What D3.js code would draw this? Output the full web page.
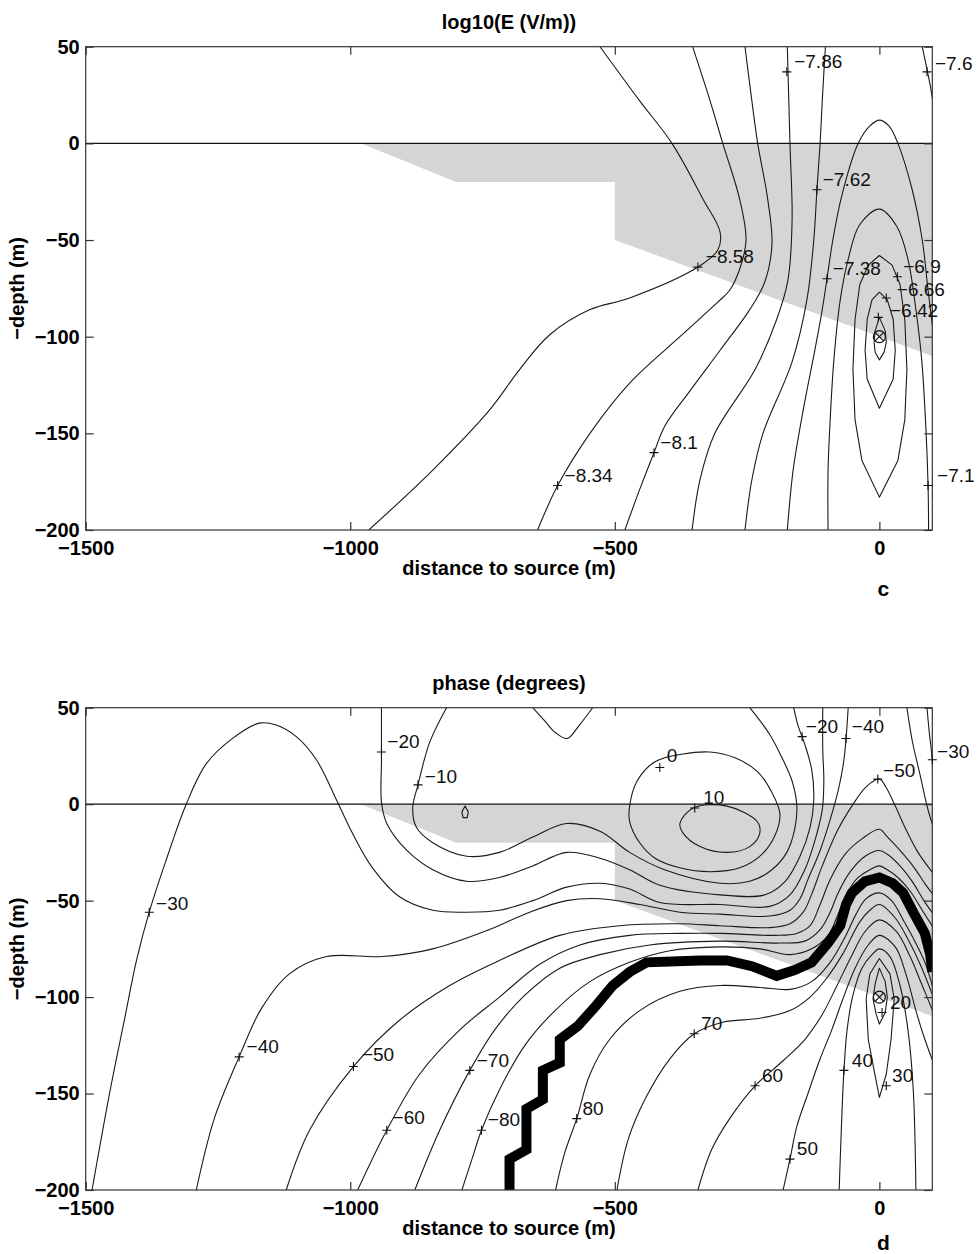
<!DOCTYPE html>
<html>
<head>
<meta charset="utf-8">
<script src="https://cdn.jsdelivr.net/npm/d3@7"></script>
<style>
	body { margin: 0; background: #fff; }
	svg { display: block; font-family: "Liberation Sans", Arial, Helvetica, sans-serif; }
</style>
</head>
<body>
<div id="visHolder"></div>
<script>
const X_DOMAIN = [-1500, 100];
const Y_DOMAIN = [-200, 50];
const X_TICKS = [-1500, -1000, -500, 0];
const Y_TICKS = [50, 0, -50, -100, -150, -200];

// shaded block below the surface, the same in both panels
const shadedArea = [[-980, 0], [-800, -20], [-500, -20], [-500, -50], [100, -110], [100, 0]];
const sourcePoint = [0, -100];

// panel c: log10(E)
const fieldLines = [
	{ level: -8.58, shape: "open", pts: [[-528, 50], [-453, 22], [-392, 0], [-333, -29], [-301, -46], [-305, -55], [-343, -64], [-472, -80], [-547, -86], [-623, -99], [-680, -117], [-737, -138], [-844, -169], [-965, -200]] },
	{ level: -8.34, shape: "open", pts: [[-353, 50], [-320, 22], [-296, 0], [-264, -29], [-252, -50], [-264, -65], [-283, -76], [-305, -82], [-377, -100], [-472, -124], [-547, -150], [-608, -177], [-646, -200]] },
	{ level: -8.1, shape: "open", pts: [[-254, 50], [-241, 22], [-230, 0], [-211, -29], [-203, -52], [-217, -72], [-245, -86], [-301, -107], [-358, -128], [-405, -146], [-426, -160], [-453, -179], [-481, -200]] },
	{ level: -7.86, shape: "open", pts: [[-174, 50], [-169, 0], [-165, -40], [-173, -71], [-194, -91], [-235, -117], [-311, -150], [-339, -174], [-354, -200]] },
	{ level: -7.62, shape: "open", pts: [[-102, 50], [-108, 22], [-112, 0], [-118, -24], [-124, -50], [-137, -81], [-165, -113], [-220, -150], [-241, -174], [-254, -200]] },
	{ level: -7.62, shape: "open", pts: [[81, 50], [88, 41], [96, 30], [102, 20]] },
	{ level: -7.38, shape: "open", pts: [[-174, -200], [-163, -169], [-144, -138], [-122, -107], [-108, -86], [-99, -70], [-88, -50], [-71, -27], [-40, 0], [-18, 9], [0, 12], [18, 9], [35, 0], [62, -24], [81, -50], [92, -76], [102, -98]] },
	{ level: -7.14, shape: "open", pts: [[-97, -200], [-97, -169], [-93, -143], [-86, -112], [-74, -81], [-59, -60], [-37, -42], [0, -34], [33, -43], [54, -60], [69, -86], [80, -112], [88, -148], [92, -177], [93, -200]] },
	{ level: -6.9, shape: "lemon", pts: [[0, -58], [24, -63], [39, -73], [48, -91], [52, -117], [48, -143], [35, -164], [0, -183], [-33, -164], [-46, -143], [-50, -117], [-46, -91], [-37, -73], [-21, -63]] },
	{ level: -6.66, shape: "lemon", pts: [[0, -77], [15, -81], [26, -91], [30, -107], [26, -122], [0, -137], [-23, -122], [-27, -107], [-23, -91], [-14, -81]] },
	{ level: -6.42, shape: "lemon", pts: [[0, -90], [11, -97], [13, -103], [9, -108], [0, -112], [-8, -108], [-10, -103], [-8, -97]] },
];

const fieldLabels = [
	{ text: "\u22127.86", at: [-175, 37], textAt: [-161, 39] },
	{ text: "\u22127.6", at: [90, 37], textAt: [105, 38] },
	{ text: "\u22127.62", at: [-118, -24], textAt: [-107, -22] },
	{ text: "\u22128.58", at: [-343, -64], textAt: [-328, -62] },
	{ text: "\u22127.38", at: [-99, -70], textAt: [-88, -68] },
	{ text: "\u22126.9", at: [34, -69], textAt: [45, -67] },
	{ text: "\u22126.66", at: [13, -80], textAt: [33, -79] },
	{ text: "\u22126.42", at: [-2, -90], textAt: [20, -90] },
	{ text: "\u22128.1", at: [-426, -160], textAt: [-414, -158] },
	{ text: "\u22128.34", at: [-608, -177], textAt: [-595, -175] },
	{ text: "\u22127.1", at: [92, -177], textAt: [109, -175] },
];

// panel d: phase (degrees)
const phaseLines = [
	{ level: -30, shape: "open", pts: [[-1488, -200], [-1455, -150], [-1427, -112], [-1404, -81], [-1380, -56], [-1348, -29], [-1310, 0], [-1272, 21], [-1223, 34], [-1172, 42], [-1140, 41], [-1102, 35], [-1064, 23], [-1024, 1], [-996, -15], [-958, -33], [-907, -48], [-844, -55], [-780, -56], [-718, -55], [-655, -50], [-591, -43], [-528, -41], [-472, -44], [-415, -51], [-301, -52], [-207, -53], [-169, -47], [-141, -34], [-122, -19], [-108, -3], [-105, 12], [-107, 28], [-107, 50]] },
	{ level: -20, shape: "open", pts: [[-941, 50], [-941, 23], [-941, 1], [-931, -10], [-893, -24], [-844, -34], [-780, -40], [-718, -38], [-655, -32], [-591, -25], [-528, -28], [-472, -34], [-415, -42], [-301, -47], [-216, -47], [-178, -40], [-150, -27], [-131, -12], [-124, 2], [-128, 18], [-141, 31], [-154, 41], [-162, 50]] },
	{ level: -10, shape: "open", pts: [[-818, 50], [-850, 32], [-872, 10], [-882, -2], [-875, -12], [-844, -20], [-780, -27], [-718, -25], [-655, -17], [-591, -10], [-528, -14], [-472, -25], [-406, -34], [-301, -41], [-245, -40], [-203, -34], [-175, -25], [-160, -13], [-156, -1], [-165, 12], [-184, 24], [-207, 36], [-245, 50]] },
	{ level: 0, shape: "open", pts: [[-655, 50], [-632, 43], [-612, 37], [-590, 34], [-567, 41], [-542, 50]] },
	{ level: 0, shape: "loop", pts: [[-472, -1], [-458, 12], [-424, 22], [-371, 26], [-320, 27], [-273, 24], [-231, 17], [-203, 6], [-188, -5], [-197, -16], [-222, -26], [-264, -33], [-320, -35], [-377, -33], [-424, -28], [-453, -20], [-472, -9]] },
	{ level: 10, shape: "loop", pts: [[-377, -10], [-352, -2], [-288, -1], [-231, -9], [-226, -15], [-245, -22], [-288, -25], [-339, -22], [-371, -15]] },
	{ level: -10, shape: "lemon", pts: [[-783, -1], [-777, -4], [-779, -7], [-787, -7], [-789, -4]] },
	{ level: -40, shape: "open", pts: [[-1291, -200], [-1257, -163], [-1210, -131], [-1168, -106], [-1115, -88], [-1045, -79], [-939, -79], [-844, -75], [-737, -65], [-661, -56], [-591, -50], [-528, -49], [-453, -52], [-377, -56], [-301, -57], [-207, -58], [-169, -55], [-150, -49], [-135, -39], [-112, -24], [-93, -8], [-78, 7], [-67, 23], [-59, 50]] },
	{ level: -50, shape: "open", pts: [[-1121, -200], [-1077, -169], [-994, -136], [-907, -112], [-812, -94], [-718, -81], [-604, -68], [-491, -63], [-377, -62], [-301, -63], [-207, -64], [-169, -62], [-144, -56], [-127, -46], [-108, -32], [-78, -13], [-52, -1], [-25, 9], [0, 13], [12, 9], [30, -1], [50, -13], [73, -25], [102, -36]] },
	{ level: -60, shape: "open", pts: [[-986, -200], [-931, -169], [-869, -140], [-793, -117], [-718, -100], [-642, -83], [-566, -73], [-472, -68], [-377, -67], [-301, -67], [-197, -68], [-156, -67], [-131, -63], [-112, -52], [-93, -39], [-65, -26], [-33, -18], [0, -13], [15, -17], [39, -24], [66, -33], [88, -42], [102, -47]] },
	{ level: -70, shape: "open", pts: [[-878, -200], [-831, -169], [-774, -138], [-727, -117], [-670, -99], [-604, -85], [-528, -78], [-434, -73], [-301, -71], [-189, -72], [-141, -71], [-112, -65], [-93, -56], [-78, -46], [-55, -35], [-27, -27], [0, -24], [15, -26], [39, -32], [62, -40], [84, -50], [102, -57]] },
	{ level: -80, shape: "open", pts: [[-789, -200], [-770, -184], [-752, -169], [-718, -148], [-670, -125], [-613, -107], [-547, -92], [-472, -82], [-396, -76], [-301, -74], [-226, -75], [-169, -78], [-128, -75], [-97, -68], [-78, -57], [-63, -47], [-40, -38], [-18, -34], [0, -32], [15, -34], [35, -38], [58, -45], [81, -55], [102, -64]] },
	{ level: 80, shape: "open", pts: [[-612, -200], [-595, -181], [-572, -163], [-547, -140], [-510, -122], [-453, -107], [-377, -97], [-301, -94], [-226, -95], [-169, -96], [-128, -92], [-93, -82], [-65, -69], [-44, -57], [-25, -49], [0, -46], [23, -50], [45, -60], [67, -71], [86, -82], [102, -96]] },
	{ level: 70, shape: "open", pts: [[-496, -200], [-475, -174], [-443, -153], [-396, -132], [-350, -119], [-296, -113], [-226, -111], [-169, -107], [-131, -100], [-99, -90], [-70, -78], [-37, -61], [-18, -55], [0, -52], [30, -59], [54, -70], [77, -83], [102, -100]] },
	{ level: 60, shape: "open", pts: [[-343, -200], [-317, -179], [-283, -163], [-235, -146], [-182, -133], [-141, -122], [-108, -109], [-80, -94], [-55, -80], [-27, -66], [0, -60], [32, -66], [58, -79], [81, -94], [102, -108]] },
	{ level: 50, shape: "open", pts: [[-182, -200], [-169, -184], [-156, -167], [-135, -150], [-112, -132], [-90, -117], [-69, -101], [-46, -85], [-21, -73], [0, -68], [30, -74], [50, -88], [69, -107], [86, -122], [102, -134]] },
	{ level: 40, shape: "open", pts: [[-76, -200], [-72, -169], [-67, -138], [-61, -117], [-50, -99], [-33, -85], [-14, -78], [0, -75], [20, -79], [39, -94], [54, -117], [64, -148], [69, -200]] },
	{ level: 30, shape: "lemon", pts: [[0, -80], [-18, -88], [-25, -101], [-21, -122], [-10, -138], [0, -152], [13, -140], [22, -122], [28, -101], [20, -88]] },
	{ level: 20, shape: "lemon", pts: [[0, -85], [-8, -93], [-12, -101], [-6, -109], [0, -114], [11, -108], [15, -100], [11, -92]] },
	{ level: -40, shape: "open", pts: [[52, 50], [62, 33], [77, 15], [92, -3], [102, -12]] },
	{ level: -30, shape: "open", pts: [[90, 50], [94, 38], [100, 23], [102, 15]] },
];

// where the phase jumps from -90 to 90
const phaseJump = [[-699, -200], [-699, -184], [-667, -179], [-667, -158], [-636, -153], [-636, -138], [-604, -134], [-604, -122], [-570, -115], [-534, -104], [-504, -94], [-472, -87], [-440, -82], [-339, -81], [-288, -81], [-241, -84], [-194, -89], [-160, -86], [-128, -82], [-97, -72], [-74, -63], [-63, -52], [-52, -46], [-27, -40], [0, -38], [25, -41], [45, -46], [64, -56], [86, -67], [96, -78], [100, -87]];

const phaseLabels = [
	{ text: "\u221230", at: [-1380, -56], textAt: [-1367, -55] },
	{ text: "\u221220", at: [-941, 27], textAt: [-930, 29] },
	{ text: "\u221210", at: [-872, 10], textAt: [-859, 11] },
	{ text: "0", at: [-415, 19], textAt: [-402, 22] },
	{ text: "10", at: [-349, -2], textAt: [-333, 0] },
	{ text: "\u221220", at: [-146, 35], textAt: [-139, 37] },
	{ text: "\u221240", at: [-63, 34], textAt: [-52, 37] },
	{ text: "\u221250", at: [-3, 13], textAt: [7, 14] },
	{ text: "\u221230", at: [100, 23], textAt: [109, 24] },
	{ text: "\u221240", at: [-1210, -131], textAt: [-1196, -129] },
	{ text: "\u221250", at: [-994, -136], textAt: [-978, -133] },
	{ text: "\u221260", at: [-931, -169], textAt: [-920, -166] },
	{ text: "\u221270", at: [-774, -138], textAt: [-761, -136] },
	{ text: "\u221280", at: [-752, -169], textAt: [-740, -167] },
	{ text: "80", at: [-572, -163], textAt: [-561, -161] },
	{ text: "70", at: [-350, -119], textAt: [-337, -117] },
	{ text: "60", at: [-235, -146], textAt: [-222, -144] },
	{ text: "50", at: [-169, -184], textAt: [-156, -182] },
	{ text: "40", at: [-67, -138], textAt: [-52, -136] },
	{ text: "30", at: [13, -146], textAt: [24, -144] },
	{ text: "20", at: [5, -108], textAt: [20, -106] },
];

const panels = [
	{ id: "c", title: "log10(E (V/m))", top: 46.7, bottom: 530, letterGap: 66, lines: fieldLines, labels: fieldLabels, jump: null },
	{ id: "d", title: "phase (degrees)", top: 707.7, bottom: 1190, letterGap: 60, lines: phaseLines, labels: phaseLabels, jump: phaseJump },
];

const width = 979;
const height = 1254;
const plotLeft = 85.7;
const plotRight = 932.3;
const ink = "#1a1a1a";

const svg = d3
	.select("#visHolder")
	.append("svg")
	.attr("width", width)
	.attr("height", height)
	.attr("viewBox", [0, 0, width, height]);

svg.append("rect").attr("width", width).attr("height", height).attr("fill", "#fff");

panels.forEach(createPanel);

function minusFormat(d) {
	return d < 0 ? "\u2212" + Math.abs(d) : String(d);
}

function createPanel(panel) {
	const x = d3.scaleLinear().domain(X_DOMAIN).range([plotLeft, plotRight]);
	const y = d3.scaleLinear().domain(Y_DOMAIN).range([panel.bottom, panel.top]);
	const g = svg.append("g").attr("id", `panel-${panel.id}`);
	const clipId = `clip-${panel.id}`;

	g.append("clipPath")
		.attr("id", clipId)
		.append("rect")
		.attr("x", plotLeft)
		.attr("y", panel.top)
		.attr("width", plotRight - plotLeft)
		.attr("height", panel.bottom - panel.top);

	const plot = g.append("g").attr("clip-path", `url(#${clipId})`);

	const lineOf = (curve) =>
		d3
			.line()
			.x((d) => x(d[0]))
			.y((d) => y(d[1]))
			.curve(curve);
	const generators = {
		open: lineOf(d3.curveCatmullRom.alpha(0.5)),
		loop: lineOf(d3.curveCatmullRomClosed.alpha(0.5)),
		lemon: lineOf(d3.curveLinearClosed),
	};

	createShade();
	createContours();
	createJump();
	createZeroLine();
	createFrame();
	createAxes();
	createLabels();
	createSource();
	createTexts();

	function createShade() {
		plot.append("path")
			.attr("d", lineOf(d3.curveLinearClosed)(shadedArea))
			.attr("fill", "#d5d5d5");
	}

	function createContours() {
		plot.append("g")
			.selectAll("path")
			.data(panel.lines)
			.join("path")
			.attr("class", "contour")
			.attr("d", (d) => generators[d.shape](d.pts))
			.attr("fill", "none")
			.attr("stroke", ink)
			.attr("stroke-width", 1.1)
			.attr("stroke-linejoin", "round");
	}

	function createJump() {
		if (!panel.jump) return;
		plot.append("path")
			.attr("d", lineOf(d3.curveLinear)(panel.jump))
			.attr("fill", "none")
			.attr("stroke", "#000")
			.attr("stroke-width", 10)
			.attr("stroke-linejoin", "miter")
			.attr("stroke-miterlimit", 3);
	}

	function createZeroLine() {
		g.append("line")
			.attr("x1", x(X_DOMAIN[0]))
			.attr("x2", x(X_DOMAIN[1]))
			.attr("y1", y(0))
			.attr("y2", y(0))
			.attr("stroke", "#111")
			.attr("stroke-width", 1.4);
	}

	function createFrame() {
		g.append("rect")
			.attr("x", plotLeft)
			.attr("y", panel.top)
			.attr("width", plotRight - plotLeft)
			.attr("height", panel.bottom - panel.top)
			.attr("fill", "none")
			.attr("stroke", "#333")
			.attr("stroke-width", 1.2);
	}

	function createAxes() {
		const styleAxis = (sel) => {
			sel.select(".domain").remove();
			sel.selectAll(".tick line").attr("stroke", "#333").attr("stroke-width", 1.2);
			sel.selectAll(".tick text")
				.attr("fill", "#000")
				.attr("font-size", 20)
				.attr("font-weight", "bold")
				.attr("font-family", "Liberation Sans, Arial, sans-serif");
		};
		g.append("g")
			.attr("transform", `translate(0,${panel.bottom})`)
			.call(d3.axisBottom(x).tickValues(X_TICKS).tickFormat(minusFormat).tickSizeInner(-8).tickSizeOuter(0).tickPadding(11))
			.call(styleAxis);
		g.append("g")
			.attr("transform", `translate(0,${panel.top})`)
			.call(d3.axisTop(x).tickValues(X_TICKS).tickFormat("").tickSizeInner(-8).tickSizeOuter(0))
			.call(styleAxis);
		g.append("g")
			.attr("transform", `translate(${plotLeft},0)`)
			.call(d3.axisLeft(y).tickValues(Y_TICKS).tickFormat(minusFormat).tickSizeInner(-8).tickSizeOuter(0).tickPadding(6))
			.call(styleAxis);
		g.append("g")
			.attr("transform", `translate(${plotRight},0)`)
			.call(d3.axisRight(y).tickValues(Y_TICKS).tickFormat("").tickSizeInner(-8).tickSizeOuter(0))
			.call(styleAxis);
	}

	function createLabels() {
		const labels = g.append("g").attr("class", "clabels");
		labels.selectAll("path")
			.data(panel.labels)
			.join("path")
			.attr("d", (d) => `M${x(d.at[0]) - 4.5},${y(d.at[1])}h9M${x(d.at[0])},${y(d.at[1]) - 4.5}v9`)
			.attr("stroke", "#111")
			.attr("stroke-width", 1.1);
		labels.selectAll("text")
			.data(panel.labels)
			.join("text")
			.attr("x", (d) => x(d.textAt[0]))
			.attr("y", (d) => y(d.textAt[1]))
			.attr("font-size", 19)
			.attr("fill", "#111")
			.text((d) => d.text);
	}

	function createSource() {
		const cx = x(sourcePoint[0]);
		const cy = y(sourcePoint[1]);
		g.append("circle")
			.attr("cx", cx)
			.attr("cy", cy)
			.attr("r", 6)
			.attr("fill", "none")
			.attr("stroke", "#111")
			.attr("stroke-width", 1.2);
		g.append("path")
			.attr("d", `M${cx - 4.5},${cy - 4.5}L${cx + 4.5},${cy + 4.5}M${cx - 4.5},${cy + 4.5}L${cx + 4.5},${cy - 4.5}`)
			.attr("stroke", "#111")
			.attr("stroke-width", 1.2);
	}

	function createTexts() {
		const mid = (plotLeft + plotRight) / 2;
		g.append("text")
			.attr("x", mid)
			.attr("y", panel.top - 18)
			.attr("text-anchor", "middle")
			.attr("font-size", 20)
			.attr("font-weight", "bold")
			.text(panel.title);
		g.append("text")
			.attr("x", mid)
			.attr("y", panel.bottom + 45)
			.attr("text-anchor", "middle")
			.attr("font-size", 20)
			.attr("font-weight", "bold")
			.text("distance to source (m)");
		g.append("text")
			.attr("transform", `translate(24,${(panel.top + panel.bottom) / 2}) rotate(-90)`)
			.attr("text-anchor", "middle")
			.attr("font-size", 20)
			.attr("font-weight", "bold")
			.text("\u2212depth (m)");
		g.append("text")
			.attr("x", x(0) + 4)
			.attr("y", panel.bottom + panel.letterGap)
			.attr("text-anchor", "middle")
			.attr("font-size", 21)
			.attr("font-weight", "bold")
			.text(panel.id);
	}
}
</script>
</body>
</html>
